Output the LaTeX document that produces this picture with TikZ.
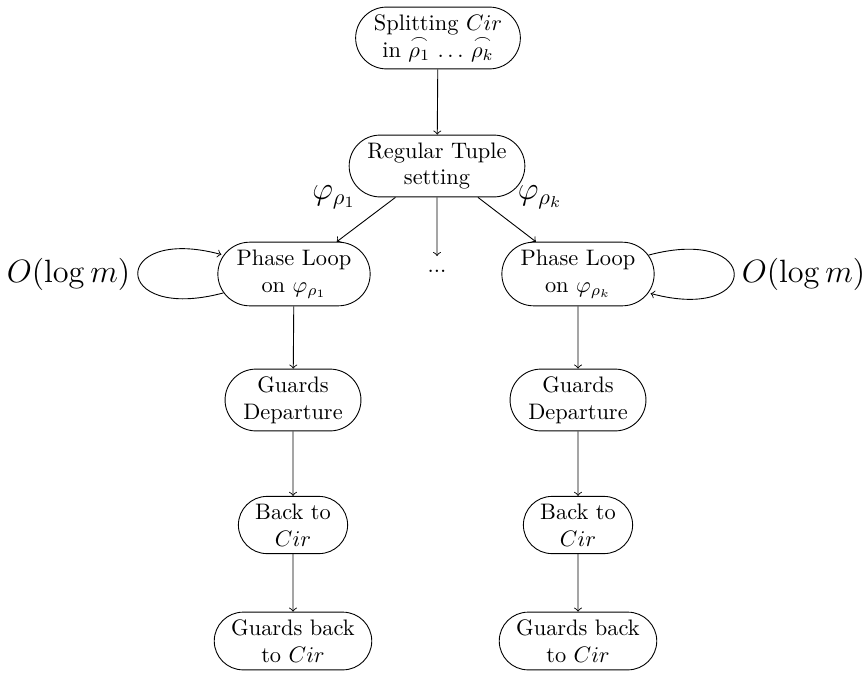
\documentclass[tikz,border=0pt]{standalone}
\usepackage{amsmath}
\usetikzlibrary{shapes.misc}

\newcommand{\arcrho}[1]{\overset{\frown}{\rho_{#1}}}

\begin{document}
\begin{tikzpicture}[x=0.01569cm, y=-0.01569cm,
  stage/.style={draw, rounded rectangle, align=center, inner sep=3.3pt},
  lbl/.style={font=\Large},
  flow/.style={->}]
  \useasboundingbox (0,0) rectangle (863,675);

  % top of the pipeline
  \node[stage] (split) at (438,38) {Splitting $Cir$\\ in $\arcrho{1}$ $\ldots$ $\arcrho{k}$};
  \node[stage] (rts) at (437,166) {Regular Tuple\\ setting};

  % left branch
  \node[stage] (pl1) at (294,274) {Phase Loop\\ on $\varphi_{\rho_1}$};
  \node[stage] (gd1) at (293,400) {Guards\\ Departure};
  \node[stage] (bc1) at (293,525) {Back to\\ $Cir$};
  \node[stage] (gb1) at (293,641) {Guards back\\ to $Cir$};

  % right branch
  \node[stage] (plk) at (578,274) {Phase Loop\\ on $\varphi_{\rho_k}$};
  \node[stage] (gdk) at (578,400) {Guards\\ Departure};
  \node[stage] (bck) at (578,525) {Back to\\ $Cir$};
  \node[stage] (gbk) at (578,641) {Guards back\\ to $Cir$};

  % middle branches elided
  \node[text height=3.7pt, inner sep=3.3pt] (dots) at (437,268) {...};

  % branch labels
  \node[lbl] (phi1) at (334,197) {$\varphi_{\rho_1}$};
  \node[lbl] (phik) at (540,197) {$\varphi_{\rho_k}$};

  % connectors
  \draw[flow] (split) -- (rts);
  \draw[flow] (rts) -- (pl1);
  \draw[flow] (rts) -- (dots);
  \draw[flow] (rts) -- (plk);

  \draw[flow] (pl1) -- (gd1);
  \draw[flow] (gd1) -- (bc1);
  \draw[flow] (bc1) -- (gb1);

  \draw[flow] (plk) -- (gdk);
  \draw[flow] (gdk) -- (bck);
  \draw[flow] (bck) -- (gbk);

  % phase loops
  \path[flow] (pl1) edge[loop left] node[left, lbl] {$O(\log m)$} ();
  \path[flow] (plk) edge[loop right] node[right, lbl] {$O(\log m)$} ();
\end{tikzpicture}
\end{document}
